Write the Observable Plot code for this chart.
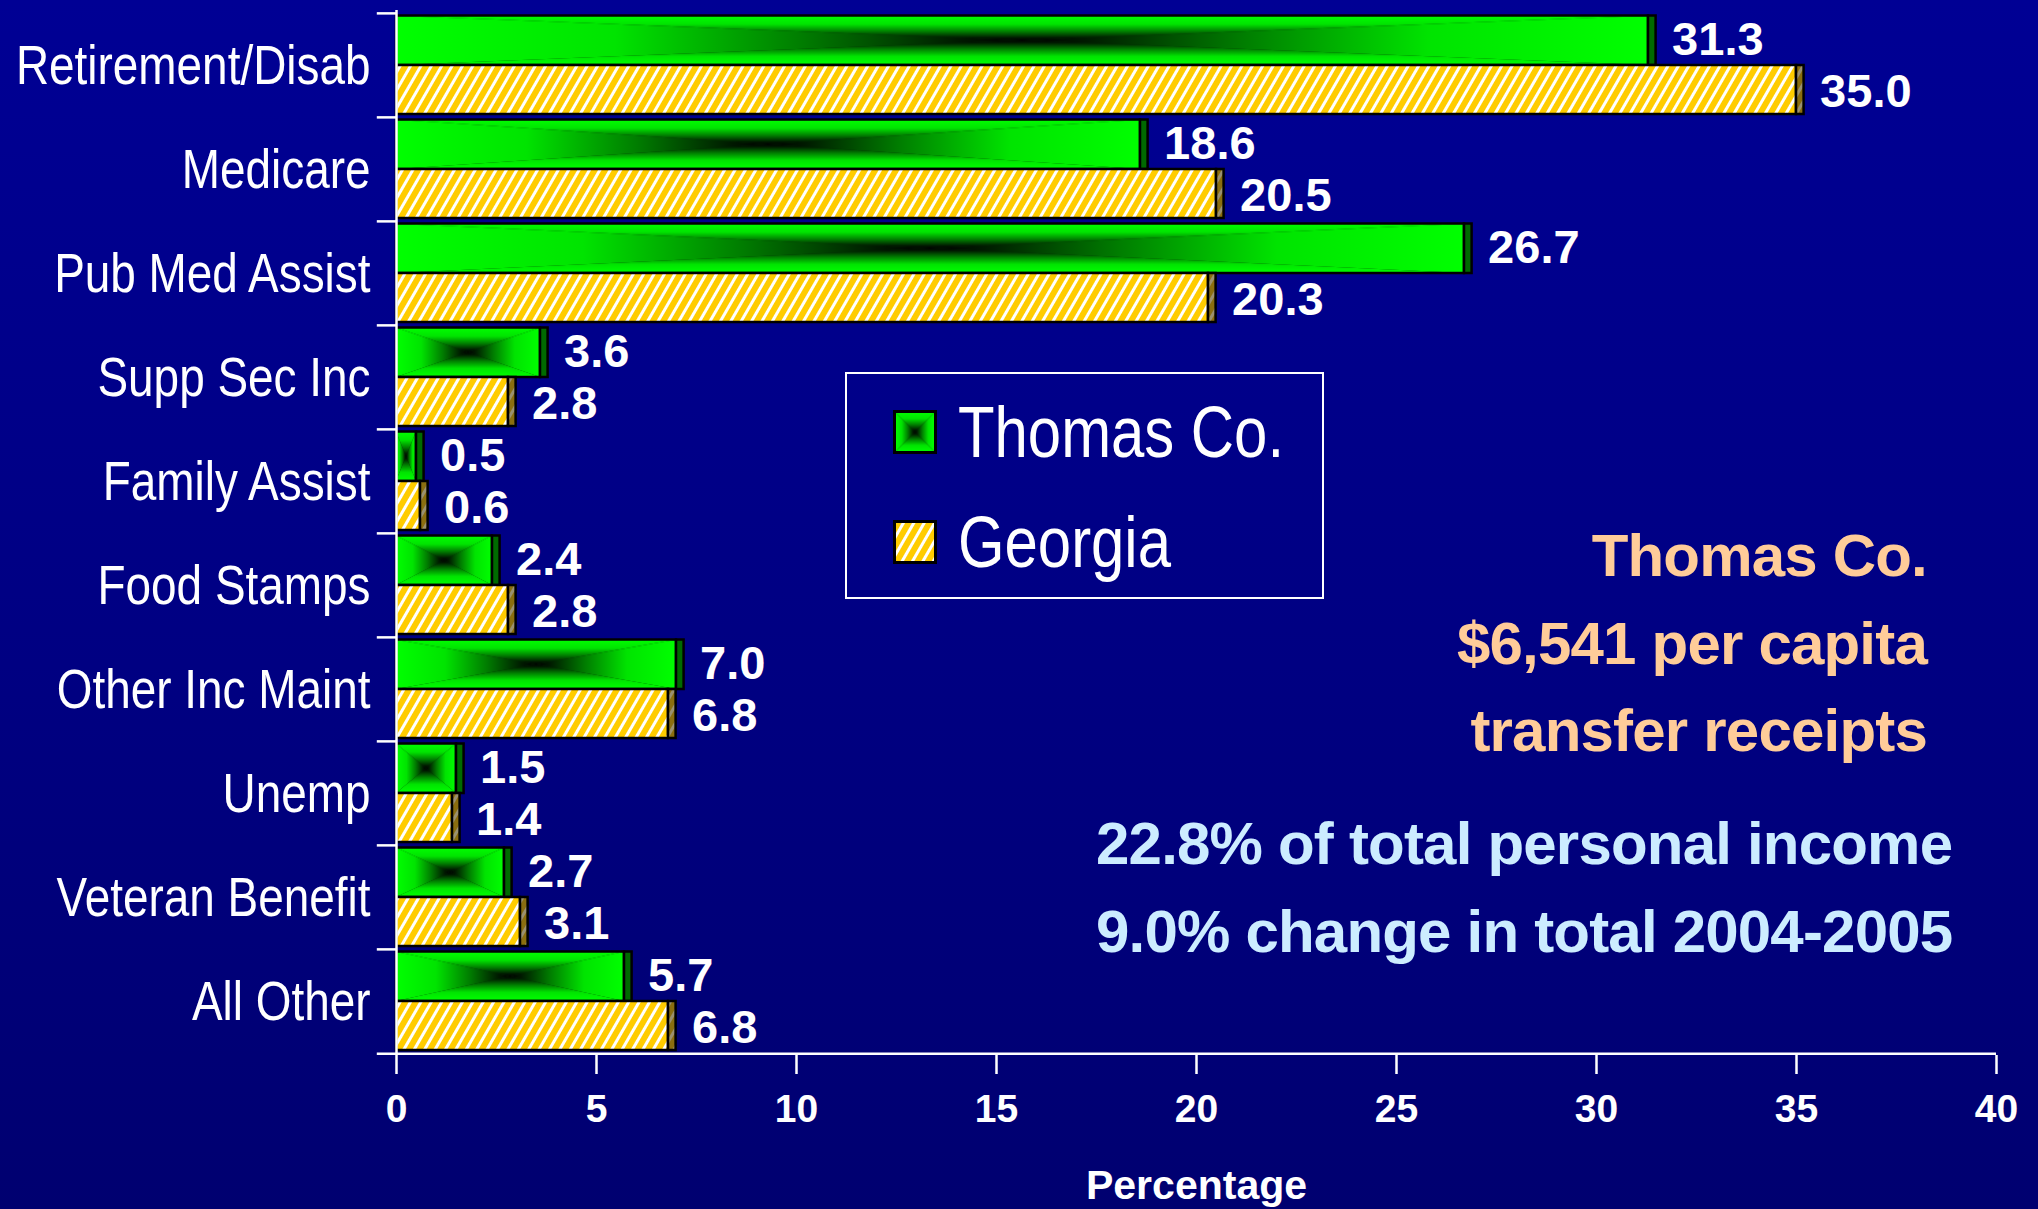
<!DOCTYPE html>
<html>
<head>
<meta charset="utf-8">
<script src="https://cdn.jsdelivr.net/npm/d3@7"></script>
<script src="https://cdn.jsdelivr.net/npm/@observablehq/plot@0.6"></script>
<style>
  html, body { margin: 0; padding: 0; overflow: hidden; }
  body {
    width: 2038px; height: 1209px;
    background: linear-gradient(to bottom, #000094 0%, #000082 55%, #000070 100%);
    font-family: "Liberation Sans", Arial, sans-serif;
  }
  #wrap { position: relative; width: 2038px; height: 1209px; }
  #chart { position: absolute; left: 0; top: 0; }
  .abs { position: absolute; white-space: nowrap; line-height: 1; }
  .legend-box { position: absolute; left: 845px; top: 372px; width: 479px; height: 227px;
                border: 2px solid #ffffff; box-sizing: border-box; }
  .swatch { position: absolute; left: 893px; width: 44px; height: 44px; }
  .leg-text { font-size: 73px; color: #ffffff; left: 958px; transform-origin: 0 50%; }
  .note { font-weight: bold; font-size: 60px; letter-spacing: -0.8px; }
  .peach { color: #FFCC99; right: 111px; text-align: right; }
  .blue { color: #CCECFF; left: 1096px; }
</style>
</head>
<body>
<svg width="0" height="0" style="position:absolute">
  <defs>
    <linearGradient id="gT" x1="0" y1="0" x2="0" y2="1">
      <stop offset="0" stop-color="#00ff00"/><stop offset="0.35" stop-color="#00e400"/>
      <stop offset="0.65" stop-color="#007c00"/><stop offset="0.9" stop-color="#001a00"/>
      <stop offset="1" stop-color="#000000"/>
    </linearGradient>
    <linearGradient id="gB" x1="0" y1="1" x2="0" y2="0">
      <stop offset="0" stop-color="#00ff00"/><stop offset="0.35" stop-color="#00e400"/>
      <stop offset="0.65" stop-color="#007c00"/><stop offset="0.9" stop-color="#001a00"/>
      <stop offset="1" stop-color="#000000"/>
    </linearGradient>
    <linearGradient id="gL" x1="0" y1="0" x2="1" y2="0">
      <stop offset="0" stop-color="#00ff00"/><stop offset="0.35" stop-color="#00e400"/>
      <stop offset="0.65" stop-color="#007c00"/><stop offset="0.9" stop-color="#001a00"/>
      <stop offset="1" stop-color="#000000"/>
    </linearGradient>
    <linearGradient id="gR" x1="1" y1="0" x2="0" y2="0">
      <stop offset="0" stop-color="#00ff00"/><stop offset="0.35" stop-color="#00e400"/>
      <stop offset="0.65" stop-color="#007c00"/><stop offset="0.9" stop-color="#001a00"/>
      <stop offset="1" stop-color="#000000"/>
    </linearGradient>
    <pattern id="rectgrad" patternUnits="objectBoundingBox" patternContentUnits="objectBoundingBox" width="1" height="1">
      <rect width="1" height="1" fill="#003000"/>
      <polygon points="0,0 1,0 0.5,0.5" fill="url(#gT)"/>
      <polygon points="0,1 1,1 0.5,0.5" fill="url(#gB)"/>
      <polygon points="0,0 0,1 0.5,0.5" fill="url(#gL)"/>
      <polygon points="1,0 1,1 0.5,0.5" fill="url(#gR)"/>
    </pattern>
    <pattern id="hatch" patternUnits="userSpaceOnUse" width="9" height="9" patternTransform="rotate(30)">
      <rect width="9" height="9" fill="#FFCC00"/>
      <rect width="3" height="9" fill="#ffffff"/>
    </pattern>
    <pattern id="hatchDark" patternUnits="userSpaceOnUse" width="9" height="9" patternTransform="rotate(30)">
      <rect width="9" height="9" fill="#8a6e10"/>
      <rect width="3" height="9" fill="#9a9070"/>
    </pattern>
  </defs>
</svg>

<div id="wrap">
  <div id="chart"></div>
  <div class="legend-box"></div>
  <svg class="swatch" style="top:410px" viewBox="0 0 44 44"><rect x="1.5" y="1.5" width="41" height="41" fill="url(#rectgrad)" stroke="#000" stroke-width="3"/></svg>
  <svg class="swatch" style="top:520px" viewBox="0 0 44 44"><rect x="1.5" y="1.5" width="41" height="41" fill="url(#hatch)" stroke="#000" stroke-width="3"/></svg>
  <div class="abs leg-text" id="leg0" style="top:395px"></div>
  <div class="abs leg-text" id="leg1" style="top:505px"></div>
  <div class="abs note peach" id="p0" style="top:526px"></div>
  <div class="abs note peach" id="p1" style="top:614px"></div>
  <div class="abs note peach" id="p2" style="top:701px"></div>
  <div class="abs note blue" id="b0" style="top:814px"></div>
  <div class="abs note blue" id="b1" style="top:902px"></div>
</div>

<script>
// ---------------- data ----------------
const categories = ["Retirement/Disab", "Medicare", "Pub Med Assist", "Supp Sec Inc", "Family Assist",
                    "Food Stamps", "Other Inc Maint", "Unemp", "Veteran Benefit", "All Other"];
const thomasCo = [31.3, 18.6, 26.7, 3.6, 0.5, 2.4, 7.0, 1.5, 2.7, 5.7];
const georgia  = [35.0, 20.5, 20.3, 2.8, 0.6, 2.8, 6.8, 1.4, 3.1, 6.8];
const seriesNames = ["Thomas Co.", "Georgia"];
const xTicks = [0, 5, 10, 15, 20, 25, 30, 35, 40];
const xDomain = [0, 40];
const axisLabel = "Percentage";
const notesPeach = ["Thomas Co.", "$6,541 per capita", "transfer receipts"];
const notesBlue = ["22.8% of total personal income", "9.0% change in total 2004-2005"];

// ---------------- fonts ----------------
function hasFont(name) {
  const c = document.createElement("canvas").getContext("2d");
  const s = "Retirement/Disab Thomas Co.";
  c.font = "56px monospace"; const a = c.measureText(s).width;
  c.font = `56px "${name}", monospace`; const b = c.measureText(s).width;
  return Math.abs(a - b) > 0.5;
}
const narrowName = ["Liberation Sans Narrow", "Arial Narrow"].find(hasFont);
const NARROW = narrowName ? `"${narrowName}", sans-serif` : `"Liberation Sans", Arial, sans-serif`;
const squeeze = narrowName ? 1 : 0.82;

// ---------------- table ----------------
const keyOf = (c, s) => c + "|" + s;
const thomasRows = categories.map((c, i) => ({category: c, series: seriesNames[0], value: thomasCo[i], key: keyOf(c, seriesNames[0])}));
const georgiaRows = categories.map((c, i) => ({category: c, series: seriesNames[1], value: georgia[i], key: keyOf(c, seriesNames[1])}));
const yDomain = categories.flatMap(c => seriesNames.map(s => keyOf(c, s)));

const W = 2038, H = 1209, MT = 10, MB = 154, ML = 396, MR = 42;
const bw = (H - MT - MB) / yDomain.length;
const depth = 0.19;

const chart = Plot.plot({
  width: W, height: H,
  marginTop: MT, marginBottom: MB, marginLeft: ML, marginRight: MR,
  style: {background: "transparent", color: "white", fontFamily: '"Liberation Sans", Arial, sans-serif', overflow: "visible"},
  x: {domain: xDomain, axis: null},
  y: {type: "band", domain: yDomain, paddingInner: 0, paddingOuter: 0, axis: null},
  marks: [
    // Thomas Co. bars (rectangular green gradient) + 3D end face
    Plot.barX(thomasRows, {x: "value", y: "key", fill: "url(#rectgrad)", stroke: "black", strokeWidth: 2.5, insetTop: 2.5, insetBottom: 0}),
    Plot.barX(thomasRows, {x1: "value", x2: d => d.value + depth, y: "key", fill: "#006a00", stroke: "black", strokeWidth: 2.5, insetTop: 2.5, insetBottom: 0}),
    // Georgia bars (hatched gold) + 3D end face
    Plot.barX(georgiaRows, {x: "value", y: "key", fill: "url(#hatch)", stroke: "black", strokeWidth: 2.5, insetTop: 0, insetBottom: 3}),
    Plot.barX(georgiaRows, {x1: "value", x2: d => d.value + depth, y: "key", fill: "url(#hatchDark)", stroke: "black", strokeWidth: 2.5, insetTop: 0, insetBottom: 3}),
    // axes lines and ticks
    Plot.ruleX([0], {stroke: "white", strokeWidth: 2.5}),
    Plot.ruleY(categories, {y: d => keyOf(d, seriesNames[0]), dy: -bw / 2, x1: -0.48, x2: 0, stroke: "white", strokeWidth: 2.5}),
    Plot.ruleY([yDomain[yDomain.length - 1]], {dy: bw / 2, x1: -0.48, x2: xDomain[1], stroke: "white", strokeWidth: 2.5}),
    Plot.axisX({ticks: xTicks, tickSize: 19, tickPadding: 20, fontSize: 39, fontWeight: "bold", strokeWidth: 2.5, label: null, tickFormat: d => String(d)}),
    // category labels
    Plot.text(categories, {y: d => keyOf(d, seriesNames[0]), frameAnchor: "left", dx: -26, dy: bw / 2, textAnchor: "end",
                           text: d => d, fontSize: 56, fontFamily: NARROW, fill: "white"}),
    // value labels
    Plot.text(thomasRows, {x: d => d.value + depth, y: "key", text: d => d.value.toFixed(1), dx: 16, textAnchor: "start",
                           fontSize: 47, fontWeight: "bold", fill: "white"}),
    Plot.text(georgiaRows, {x: d => d.value + depth, y: "key", text: d => d.value.toFixed(1), dx: 16, textAnchor: "start",
                            fontSize: 47, fontWeight: "bold", fill: "white"}),
    // x axis title
    Plot.text([axisLabel], {frameAnchor: "bottom", text: d => d, dy: 143, fontSize: 41, fontWeight: "bold", fill: "white"})
  ]
});
document.getElementById("chart").appendChild(chart);

// compress category labels horizontally if no narrow face is installed
if (squeeze !== 1) {
  const catSet = new Set(categories);
  chart.querySelectorAll("text").forEach(t => {
    if (!catSet.has(t.textContent)) return;
    const tr = t.getAttribute("transform") || "";
    if (t.hasAttribute("x")) {
      const x = +t.getAttribute("x");
      t.setAttribute("transform", `${tr} translate(${x},0) scale(${squeeze},1) translate(${-x},0)`);
    } else {
      t.setAttribute("transform", `${tr} scale(${squeeze},1)`);
    }
  });
}

// legend and notes
seriesNames.forEach((s, i) => {
  const el = document.getElementById("leg" + i);
  el.textContent = s;
  el.style.fontFamily = NARROW;
  if (squeeze !== 1) el.style.transform = `scaleX(${squeeze})`;
});
notesPeach.forEach((s, i) => document.getElementById("p" + i).textContent = s);
notesBlue.forEach((s, i) => document.getElementById("b" + i).textContent = s);
</script>
</body>
</html>
